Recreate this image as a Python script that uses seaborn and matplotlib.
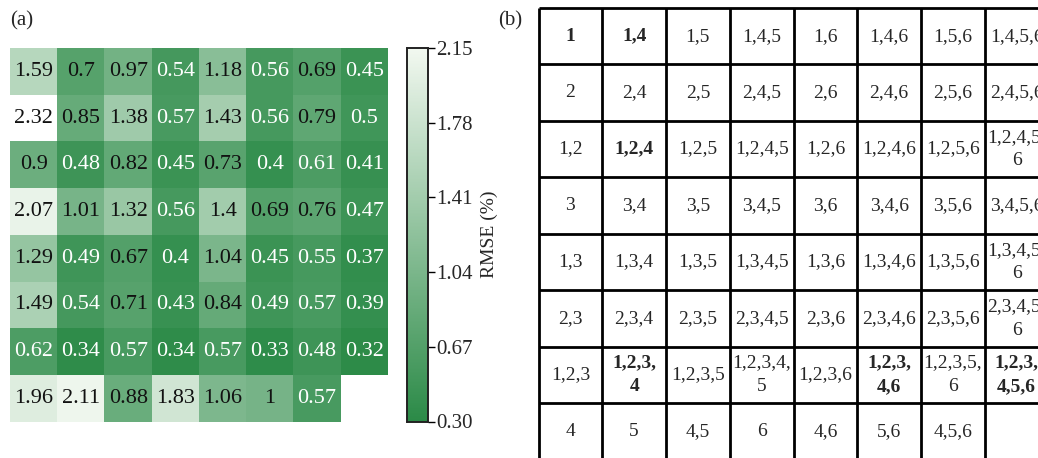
import numpy as np
import matplotlib
matplotlib.use("Agg")
import matplotlib.pyplot as plt
import seaborn as sns

# (a) RMSE values, row by row (last cell empty)
rmse = [
    [1.59, 0.7, 0.97, 0.54, 1.18, 0.56, 0.69, 0.45],
    [2.32, 0.85, 1.38, 0.57, 1.43, 0.56, 0.79, 0.5],
    [0.9, 0.48, 0.82, 0.45, 0.73, 0.4, 0.61, 0.41],
    [2.07, 1.01, 1.32, 0.56, 1.4, 0.69, 0.76, 0.47],
    [1.29, 0.49, 0.67, 0.4, 1.04, 0.45, 0.55, 0.37],
    [1.49, 0.54, 0.71, 0.43, 0.84, 0.49, 0.57, 0.39],
    [0.62, 0.34, 0.57, 0.34, 0.57, 0.33, 0.48, 0.32],
    [1.96, 2.11, 0.88, 1.83, 1.06, 1, 0.57, np.nan],
]
cbar_ticks = [0.30, 0.67, 1.04, 1.41, 1.78, 2.15]

# (b) feature combinations for each cell
combos = [
    ["1", "1,4", "1,5", "1,4,5", "1,6", "1,4,6", "1,5,6", "1,4,5,6"],
    ["2", "2,4", "2,5", "2,4,5", "2,6", "2,4,6", "2,5,6", "2,4,5,6"],
    ["1,2", "1,2,4", "1,2,5", "1,2,4,5", "1,2,6", "1,2,4,6", "1,2,5,6", "1,2,4,5,\n6"],
    ["3", "3,4", "3,5", "3,4,5", "3,6", "3,4,6", "3,5,6", "3,4,5,6"],
    ["1,3", "1,3,4", "1,3,5", "1,3,4,5", "1,3,6", "1,3,4,6", "1,3,5,6", "1,3,4,5,\n6"],
    ["2,3", "2,3,4", "2,3,5", "2,3,4,5", "2,3,6", "2,3,4,6", "2,3,5,6", "2,3,4,5,\n6"],
    ["1,2,3", "1,2,3,\n4", "1,2,3,5", "1,2,3,4,\n5", "1,2,3,6", "1,2,3,\n4,6", "1,2,3,5,\n6", "1,2,3,\n4,5,6"],
    ["4", "5", "4,5", "6", "4,6", "5,6", "4,5,6", ""],
]
bold_cells = ["1", "1,4", "1,2,4", "1,2,3,\n4", "1,2,3,\n4,6", "1,2,3,\n4,5,6"]

sns.set_style("white")
plt.rcParams["font.family"] = ["Liberation Serif", "DejaVu Serif"]

W, H = 1038, 458
fig = plt.figure(figsize=(W / 100, H / 100), dpi=100)

ax_hm = fig.add_axes([10 / W, (H - 421.7) / H, 378 / W, 373.7 / H])
ax_cb = fig.add_axes([407 / W, (H - 421.5) / H, 21 / W, 373.5 / H])
ax_tb = fig.add_axes([538.5 / W, (H - 459.5) / H, 510 / W, 451.5 / H])

cmap = sns.blend_palette(["#2b8a47", "#f2f8f0"], as_cmap=True)
cmap.set_over("white")

data = np.array(rmse, dtype=float)
sns.heatmap(data, ax=ax_hm, cbar_ax=ax_cb, cmap=cmap, vmin=0.30, vmax=2.15,
            annot=True, fmt="g", annot_kws={"fontsize": 16},
            xticklabels=False, yticklabels=False, linewidths=0)

vals = [v for v in data.ravel() if not np.isnan(v)]
for txt, v in zip(ax_hm.texts, vals):
    txt.set_color("white" if v < 0.65 else "#111111")

ax_cb.set_yticks(cbar_ticks)
ax_cb.set_yticklabels([f"{t:.2f}" for t in cbar_ticks], fontsize=15)
ax_cb.tick_params(axis="y", length=5, width=1, color="black", pad=1, right=True)
for sp in ax_cb.spines.values():
    sp.set_visible(True)
    sp.set_color("#222222")
    sp.set_linewidth(1.2)
ax_cb.set_ylabel("RMSE (%)", fontsize=14, labelpad=6)

# table of combinations
nr, nc = len(combos), len(combos[0])
ax_tb.set_xlim(0, nc)
ax_tb.set_ylim(nr, 0)
ax_tb.axis("off")
ax_tb.hlines(range(nr + 1), 0, nc, color="black", lw=2, clip_on=False)
ax_tb.vlines(range(nc + 1), 0, nr, color="black", lw=2, clip_on=False)
for i, row in enumerate(combos):
    for j, s in enumerate(row):
        ax_tb.text(j + 0.5, i + 0.5, s, ha="center", va="center", fontsize=14,
                   linespacing=1.5, clip_on=False,
                   fontweight="bold" if s in bold_cells else "normal")

fig.text(10 / W, 1 - 21 / H, "(a)", fontsize=15, va="center", ha="left")
fig.text(498 / W, 1 - 21 / H, "(b)", fontsize=15, va="center", ha="left")

fig.savefig("out.png", dpi=100)
